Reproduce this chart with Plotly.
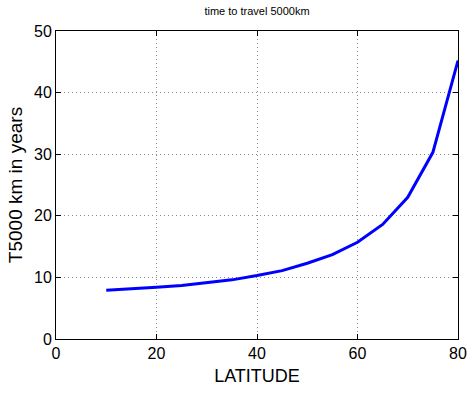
import plotly.graph_objects as go

latitude = [10, 15, 20, 25, 30, 35, 40, 45, 50, 55, 60, 65, 70, 75, 80]
t5000_years = [7.9, 8.1, 8.4, 8.7, 9.1, 9.6, 10.3, 11.1, 12.3, 13.7, 15.7, 18.6, 23.0, 30.3, 45.2]

x_ticks = [0, 20, 40, 60, 80]
y_ticks = [0, 10, 20, 30, 40, 50]

FONT = "Liberation Sans, Arial, Helvetica, sans-serif"

fig = go.Figure()
fig.add_trace(go.Scatter(
    x=latitude, y=t5000_years, mode="lines",
    line=dict(color="#0000FF", width=3),
    showlegend=False,
))

axis_common = dict(
    showline=True, linecolor="black", linewidth=1, mirror="ticks",
    ticks="inside", ticklen=5, tickcolor="black", tickwidth=1,
    showgrid=True, gridcolor="#8c8c8c", griddash="1px,3px", gridwidth=1,
    zeroline=False, automargin=False,
    tickfont=dict(family=FONT, size=16, color="black"),
)

fig.update_xaxes(
    range=[0, 80], tickvals=x_ticks, ticktext=[str(v) for v in x_ticks],
    title=dict(text="LATITUDE", font=dict(family=FONT, size=18, color="black"), standoff=8),
    **axis_common,
)
fig.update_yaxes(
    range=[0, 50], tickvals=y_ticks, ticktext=[str(v) for v in y_ticks],
    title=dict(text="T5000 km in years", font=dict(family=FONT, size=19, color="black"), standoff=6),
    **axis_common,
)

fig.update_layout(
    width=468, height=393,
    margin=dict(l=56, r=10, t=31, b=54),
    paper_bgcolor="white", plot_bgcolor="white",
    title=dict(text="time to travel 5000km", x=(56 + 458) / 2 / 468, xanchor="center",
               y=1 - 11.5 / 393, yanchor="middle", yref="container",
               font=dict(family=FONT, size=11, color="black")),
)

fig.write_html("out.html")
